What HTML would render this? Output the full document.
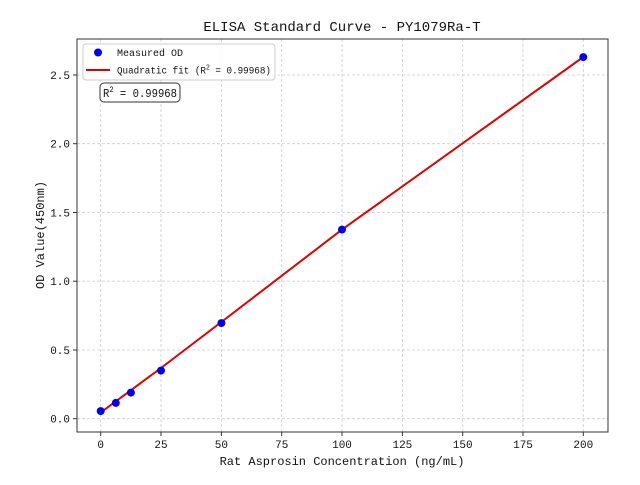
<!DOCTYPE html>
<html><head><style>body{margin:0;background:#fff}</style></head><body>
<svg width="640" height="480" xmlns="http://www.w3.org/2000/svg" font-family="Liberation Mono, monospace">
<rect width="640" height="480" fill="#fff"/>
<g stroke="#ccc" stroke-width="0.8" stroke-dasharray="3,2">
<line x1="100.7" y1="39" x2="100.7" y2="432"/><line x1="161" y1="39" x2="161" y2="432"/><line x1="221.4" y1="39" x2="221.4" y2="432"/><line x1="281.7" y1="39" x2="281.7" y2="432"/><line x1="342" y1="39" x2="342" y2="432"/><line x1="402.4" y1="39" x2="402.4" y2="432"/><line x1="462.7" y1="39" x2="462.7" y2="432"/><line x1="523" y1="39" x2="523" y2="432"/><line x1="583.3" y1="39" x2="583.3" y2="432"/>
<line x1="77" y1="418.7" x2="608" y2="418.7"/><line x1="77" y1="350" x2="608" y2="350"/><line x1="77" y1="281.2" x2="608" y2="281.2"/><line x1="77" y1="212.5" x2="608" y2="212.5"/><line x1="77" y1="143.7" x2="608" y2="143.7"/><line x1="77" y1="75" x2="608" y2="75"/>
</g>
<polyline points="100.7,412.5 161,368 221.4,322 342,229.6 583.3,57" fill="none" stroke="#e00000" stroke-width="2"/>
<g fill="#0000ee">
<circle cx="100.7" cy="411.1" r="4"/><circle cx="115.8" cy="402.9" r="4"/><circle cx="130.9" cy="392.6" r="4"/><circle cx="161" cy="370.6" r="4"/><circle cx="221.4" cy="323.1" r="4"/><circle cx="342" cy="229.6" r="4"/><circle cx="583.3" cy="57.1" r="4"/>
</g>
<rect x="77" y="39" width="531" height="393" fill="none" stroke="#333" stroke-width="1"/>
<g stroke="#333" stroke-width="1">
<line x1="100.7" y1="432" x2="100.7" y2="436"/><line x1="161" y1="432" x2="161" y2="436"/><line x1="221.4" y1="432" x2="221.4" y2="436"/><line x1="281.7" y1="432" x2="281.7" y2="436"/><line x1="342" y1="432" x2="342" y2="436"/><line x1="402.4" y1="432" x2="402.4" y2="436"/><line x1="462.7" y1="432" x2="462.7" y2="436"/><line x1="523" y1="432" x2="523" y2="436"/><line x1="583.3" y1="432" x2="583.3" y2="436"/>
<line x1="73" y1="418.7" x2="77" y2="418.7"/><line x1="73" y1="350" x2="77" y2="350"/><line x1="73" y1="281.2" x2="77" y2="281.2"/><line x1="73" y1="212.5" x2="77" y2="212.5"/><line x1="73" y1="143.7" x2="77" y2="143.7"/><line x1="73" y1="75" x2="77" y2="75"/>
</g>
<g font-size="11" fill="#111" text-anchor="middle">
<text x="100.7" y="448">0</text><text x="161" y="448">25</text><text x="221.4" y="448">50</text><text x="281.7" y="448">75</text><text x="342" y="448">100</text><text x="402.4" y="448">125</text><text x="462.7" y="448">150</text><text x="523" y="448">175</text><text x="583.3" y="448">200</text>
</g>
<g font-size="11" fill="#111" text-anchor="end">
<text x="70" y="422.5">0.0</text><text x="70" y="354">0.5</text><text x="70" y="285">1.0</text><text x="70" y="216.5">1.5</text><text x="70" y="147.5">2.0</text><text x="70" y="79">2.5</text>
</g>
<text x="342" y="465" font-size="12" text-anchor="middle" fill="#111">Rat Asprosin Concentration (ng/mL)</text>
<text transform="translate(44,235) rotate(-90)" font-size="12" text-anchor="middle" fill="#111">OD Value(450nm)</text>
<text x="342" y="31" font-size="14" text-anchor="middle" fill="#111">ELISA Standard Curve - PY1079Ra-T</text>
<rect x="83" y="44" width="192" height="36" rx="3" fill="#fff" fill-opacity="0.85" stroke="#ccc"/>
<circle cx="98" cy="52.5" r="4" fill="#0000ee"/>
<text x="117" y="56" font-size="10" fill="#111">Measured OD</text>
<line x1="86" y1="70" x2="110" y2="70" stroke="#e00000" stroke-width="2"/>
<text x="117" y="73.5" font-size="10" fill="#111" textLength="154" lengthAdjust="spacingAndGlyphs">Quadratic fit (R<tspan font-size="7" dy="-4">2</tspan><tspan dy="4"> = 0.99968)</tspan></text>
<rect x="100" y="83" width="80" height="19" rx="4" fill="#fff" stroke="#333"/>
<text x="103" y="97" font-size="12" fill="#111" textLength="74" lengthAdjust="spacingAndGlyphs">R<tspan font-size="8" dy="-5">2</tspan><tspan dy="5"> = 0.99968</tspan></text>
</svg>
</body></html>
